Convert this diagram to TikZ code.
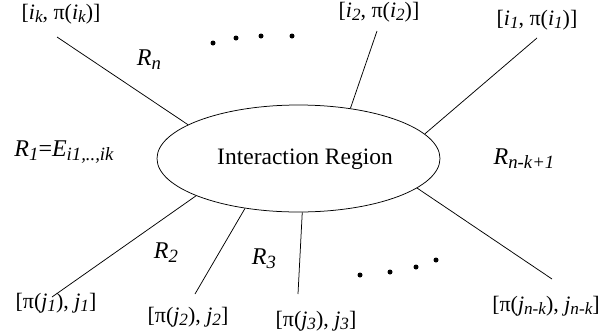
\documentclass[tikz,border=0pt]{standalone}
\usepackage{fontspec}
\setmainfont{Liberation Serif}
\usetikzlibrary{shapes.geometric}
\newcommand\sbs[1]{\raisebox{-0.16em}{\scalebox{0.78}{\itshape #1}}}
\begin{document}
\begin{tikzpicture}[x=1pt,y=-1pt,
  conn/.style={draw=black,line width=0.75pt},
  lab/.style={inner sep=0pt,font=\fontsize{22}{22}\selectfont},
  rlab/.style={inner sep=0pt,font=\fontsize{24}{24}\selectfont},
  dotm/.style={circle,fill=black,inner sep=0pt,minimum size=5pt}]
\useasboundingbox (0,0) rectangle (603,335);
\node[ellipse,draw=black,line width=0.75pt,minimum width=283pt,minimum height=107pt,inner sep=0pt] (ir) at (298.5,158.5) {};
\node[inner sep=0pt,font=\fontsize{23.5}{23.5}\selectfont] (irt) at (305,159) {Interaction Region};
% free ends
\coordinate (c1) at (57,37);
\coordinate (c2) at (377,31);
\coordinate (c3) at (537,38);
\coordinate (c4) at (552,279);
\coordinate (c5) at (52,297);
\coordinate (c6) at (195,294);
\coordinate (c7) at (298,294);
\draw[conn] (ir.163.1) -- (c1);
\draw[conn] (ir.44) -- (c2);
\draw[conn] (ir.11.5) -- (c3);
\draw[conn] (ir.-14.3) -- (c4);
\draw[conn] (ir.-160.1) -- (c5);
\draw[conn] (ir.-137.7) -- (c6);
\draw[conn] (ir.-86.3) -- (c7);
% end labels
\node[lab] (lik) at (61,14) {[\textit{i}\sbs{k}, π(\textit{i}\sbs{k})]};
\node[lab] (li2) at (379,12) {[\textit{i}\sbs{2}, π(\textit{i}\sbs{2})]};
\node[lab] (li1) at (537,20) {[\textit{i}\sbs{1}, π(\textit{i}\sbs{1})]};
\node[lab] (lj1) at (56,303) {[π(\textit{j}\sbs{1}), \textit{j}\sbs{1}]};
\node[lab] (lj2) at (188,317) {[π(\textit{j}\sbs{2}), \textit{j}\sbs{2}]};
\node[lab] (lj3) at (316,321) {[π(\textit{j}\sbs{3}), \textit{j}\sbs{3}]};
\node[lab] (ljn) at (546,306) {[π(\textit{j}\sbs{n-k}), \textit{j}\sbs{n-k}]};
% region labels
\node[rlab] (rn) at (149,60) {\textit{R}\sbs{n}};
\node[rlab] (r1) at (64,152) {\textit{R}\sbs{1}=\textit{E}\sbs{i1,..,ik}};
\node[rlab] (rnk) at (524,159) {\textit{R}\sbs{n-k+1}};
\node[rlab] (r2) at (166,253) {\textit{R}\sbs{2}};
\node[rlab] (r3) at (264,259) {\textit{R}\sbs{3}};
% dots
\node[dotm] (t1) at (213,43) {};
\node[dotm] (t2) at (236,38) {};
\node[dotm] (t3) at (261,36) {};
\node[dotm] (t4) at (292,36) {};
\node[dotm] (b1) at (360,275) {};
\node[dotm] (b2) at (390,272) {};
\node[dotm] (b3) at (416,267) {};
\node[dotm] (b4) at (436,260) {};
\end{tikzpicture}
\end{document}
